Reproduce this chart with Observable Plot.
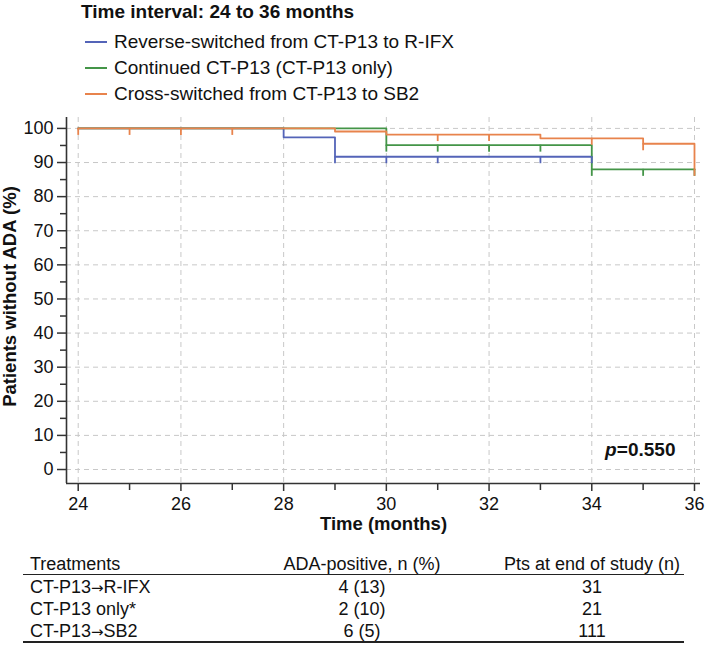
<!DOCTYPE html>
<html><head><meta charset="utf-8">
<script src="https://cdn.jsdelivr.net/npm/d3@7"></script>
<script src="https://cdn.jsdelivr.net/npm/@observablehq/plot@0.6"></script>
<style>
body{margin:0;background:#fff;}
#wrap{position:relative;width:709px;height:645px;font-family:"Liberation Sans",Arial,sans-serif;color:#111;overflow:hidden;background:#fff}
#wrap svg{position:absolute;left:0;top:0}
.abs{position:absolute;white-space:nowrap}
.arr{font-family:"DejaVu Sans",sans-serif;font-size:15px}
</style></head><body><div id="wrap"></div>
<script>
// ---- text ----
const chartTitle = "Time interval: 24 to 36 months";
const seriesNames = ["Reverse-switched from CT-P13 to R-IFX", "Continued CT-P13 (CT-P13 only)", "Cross-switched from CT-P13 to SB2"];
const seriesColors = ["#5464b8", "#449548", "#e8834c"];
const xLabel = "Time (months)";
const yLabel = "Patients without ADA (%)";
const pValue = "0.550";

// ---- step curves (time of change, % without ADA after change) ----
const rifxTimes = [24, 28, 29, 34];
const rifxSurv  = [100, 97.4, 91.7, 91.7];
const rifxCensor = [29, 30, 31, 33, 34];

const onlyTimes = [24, 30, 34, 36];
const onlySurv  = [100, 95.1, 88.0, 88.0];
const onlyCensor = [30, 31, 32, 33, 34, 35, 36];

const sb2Times = [24, 29, 30, 33, 35, 36];
const sb2Surv  = [100, 99.1, 98.2, 97.1, 95.5, 88.0];
const sb2Censor = [24, 25, 26, 27, 31, 32, 34, 35, 36];

// ---- axes ----
const xMajor = [24, 26, 28, 30, 32, 34, 36];
const xMinor = [25, 27, 29, 31, 33, 35];
const yMajor = [0, 10, 20, 30, 40, 50, 60, 70, 80, 90, 100];
const yMinor = [5, 15, 25, 35, 45, 55, 65, 75, 85, 95];
const xDomain = [23.772, 36.117];
const yDomain = [-4.1, 103.2];

// ---- table ----
const tableHeaders = ["Treatments", "ADA-positive, n (%)", "Pts at end of study (n)"];
const treatments = ["CT-P13\u2192R-IFX", "CT-P13 only*", "CT-P13\u2192SB2"];
const adaPositive = ["4 (13)", "2 (10)", "6 (5)"];
const ptsEnd = ["31", "21", "111"];

// build data
const seriesDefs = [
  {name: seriesNames[0], times: rifxTimes, surv: rifxSurv, censor: rifxCensor},
  {name: seriesNames[1], times: onlyTimes, surv: onlySurv, censor: onlyCensor},
  {name: seriesNames[2], times: sb2Times, surv: sb2Surv, censor: sb2Censor}
];
const steps = [], censors = [];
seriesDefs.forEach(s => {
  s.times.forEach((t, i) => steps.push({series: s.name, t, s: s.surv[i]}));
  s.censor.forEach(t => {
    let v = s.surv[0];
    s.times.forEach((tt, i) => { if (tt <= t) v = s.surv[i]; });
    censors.push({series: s.name, t, s: v});
  });
});

const font = '"Liberation Sans", Arial, sans-serif';
const axisColor = "#333";
const blank = () => "";

const plot = Plot.plot({
  width: 709, height: 645,
  marginTop: 117, marginBottom: 162, marginLeft: 66, marginRight: 9,
  style: {fontFamily: font, fontSize: "18px", color: "#111", background: "transparent"},
  x: {domain: xDomain},
  y: {domain: yDomain},
  color: {domain: seriesNames, range: seriesColors},
  marks: [
    Plot.gridX({ticks: xMajor, stroke: "#c8c8c8", strokeOpacity: 1, strokeDasharray: "5,4"}),
    Plot.gridY({ticks: yMajor, stroke: "#c8c8c8", strokeOpacity: 1, strokeDasharray: "5,4"}),
    Plot.ruleX([xDomain[0]], {stroke: axisColor, strokeWidth: 1.6}),
    Plot.ruleY([yDomain[0]], {stroke: axisColor, strokeWidth: 1.6}),
    Plot.axisX({ticks: xMajor, tickSize: 8, tickPadding: 6, label: null, stroke: axisColor, strokeWidth: 1.5, fontSize: 18}),
    Plot.axisX({ticks: xMinor, tickSize: 7, tickFormat: blank, label: null, stroke: axisColor, strokeWidth: 1.5}),
    Plot.axisY({ticks: yMajor, tickSize: 9, tickPadding: 4, label: null, stroke: axisColor, strokeWidth: 1.5, fontSize: 18}),
    Plot.axisY({ticks: yMinor, tickSize: 6, tickFormat: blank, label: null, stroke: axisColor, strokeWidth: 1.5}),
    Plot.line(steps, {x: "t", y: "s", z: "series", stroke: "series", curve: "step-after", strokeWidth: 1.8}),
    Plot.ruleX(censors, {x: "t", y1: "s", y2: "s", insetBottom: -7, stroke: "series", strokeWidth: 1.8}),
    Plot.text([xLabel], {text: d => d, frameAnchor: "bottom", dy: 41, textAnchor: "middle", lineAnchor: "middle", fontWeight: "bold", fontSize: 18.5, fill: "#111"}),
    Plot.text([yLabel], {text: d => d, frameAnchor: "left", dx: -56, dy: -4, rotate: -90, textAnchor: "middle", lineAnchor: "middle", fontWeight: "bold", fontSize: 18.5, fill: "#111"}),
    Plot.text(["=" + pValue], {text: d => d, frameAnchor: "bottom-right", dx: -25, dy: -34, textAnchor: "end", lineAnchor: "middle", fontWeight: "bold", fontSize: 19, fill: "#111"}),
    Plot.text(["p"], {text: d => d, frameAnchor: "bottom-right", dx: -84, dy: -34, textAnchor: "end", lineAnchor: "middle", fontWeight: "bold", fontStyle: "italic", fontSize: 19, fill: "#111"})
  ]
});
const wrap = document.getElementById("wrap");
wrap.appendChild(plot);

function addDiv(text, css) {
  const d = document.createElement("div");
  d.className = "abs";
  if (text.includes("\u2192")) {
    const parts = text.split("\u2192");
    d.appendChild(document.createTextNode(parts[0]));
    const a = document.createElement("span");
    a.className = "arr";
    a.textContent = "\u2192";
    d.appendChild(a);
    d.appendChild(document.createTextNode(parts[1]));
  } else {
    d.textContent = text;
  }
  Object.assign(d.style, css);
  wrap.appendChild(d);
  return d;
}
// title
addDiv(chartTitle, {left: "81px", top: "2px", fontSize: "19px", fontWeight: "bold", lineHeight: "20px"});
// legend
const legendY = [42, 68, 94];
seriesNames.forEach((n, i) => {
  const ln = document.createElement("div");
  ln.className = "abs";
  Object.assign(ln.style, {left: "85px", top: (legendY[i] - 0.8) + "px", width: "22px", height: "1.6px", background: seriesColors[i]});
  wrap.appendChild(ln);
  addDiv(n, {left: "114px", top: (legendY[i] - 10) + "px", fontSize: "19px", lineHeight: "20px"});
});
// table
const colLeft = 30, col2C = 362, col3C = 592;
const rowY = [564, 587, 609, 631];
const tf = "18px";
addDiv(tableHeaders[0], {left: colLeft + "px", top: (rowY[0] - 10) + "px", fontSize: tf, lineHeight: "20px"});
addDiv(tableHeaders[1], {left: col2C + "px", top: (rowY[0] - 10) + "px", fontSize: tf, lineHeight: "20px", transform: "translateX(-50%)"});
addDiv(tableHeaders[2], {left: col3C + "px", top: (rowY[0] - 10) + "px", fontSize: tf, lineHeight: "20px", transform: "translateX(-50%)"});
treatments.forEach((t, i) => {
  const y = rowY[i + 1] - 10;
  addDiv(t, {left: colLeft + "px", top: y + "px", fontSize: tf, lineHeight: "20px"});
  addDiv(adaPositive[i], {left: col2C + "px", top: y + "px", fontSize: tf, lineHeight: "20px", transform: "translateX(-50%)"});
  addDiv(ptsEnd[i], {left: col3C + "px", top: y + "px", fontSize: tf, lineHeight: "20px", transform: "translateX(-50%)"});
});
const rule1 = document.createElement("div");
rule1.className = "abs";
Object.assign(rule1.style, {left: "23px", top: "574px", width: "661px", height: "1.3px", background: "#222"});
wrap.appendChild(rule1);
const rule2 = document.createElement("div");
rule2.className = "abs";
Object.assign(rule2.style, {left: "23px", top: "641px", width: "661px", height: "2px", background: "#222"});
wrap.appendChild(rule2);
</script>
</body></html>
